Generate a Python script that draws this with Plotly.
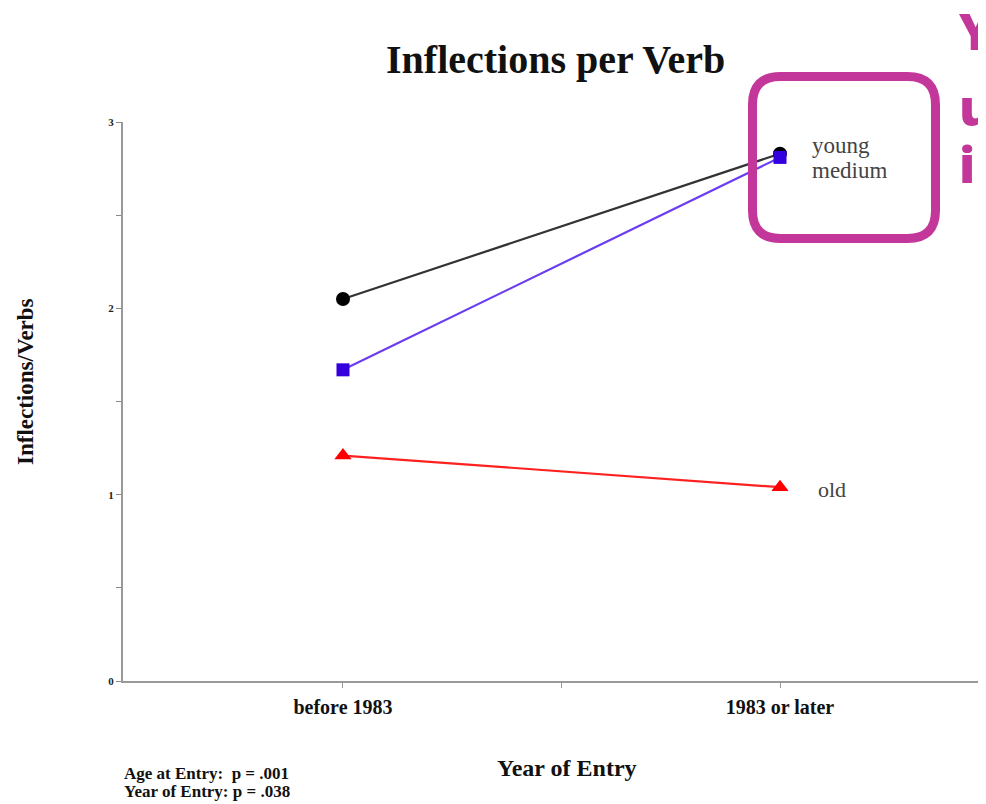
import plotly.graph_objects as go

# ---- data ----
x_positions = [1, 2]
x_tick_labels = ["before 1983", "1983 or later"]
young = [2.05, 2.83]
medium = [1.67, 2.81]
old = [1.21, 1.04]
series_names = ["young", "medium", "old"]
y_tick_values = [0, 1, 2, 3]

# page body has an 8px margin; compensate so the plot lands where the reference has it
OFF = 8
VW, VH = 986, 804
L, R, T, B = 123, 986, 122, 681   # plot area in viewport pixels
W, H = VW - OFF, VH - OFF


def px(x):
    return (x - L) / (R - L)


def py(y):
    return (B - y) / (B - T)


SERIF = "Liberation Serif, Times New Roman, serif"

fig = go.Figure()
fig.add_trace(go.Scatter(x=x_positions, y=old, mode="lines+markers", name=series_names[2],
                         line=dict(color="#ff2020", width=2.2),
                         marker=dict(symbol="triangle-up", size=15, color="#ff0000")))
fig.add_trace(go.Scatter(x=x_positions, y=young, mode="lines+markers", name=series_names[0],
                         line=dict(color="#333333", width=2.2),
                         marker=dict(symbol="circle", size=14, color="#000000")))
fig.add_trace(go.Scatter(x=x_positions, y=medium, mode="lines+markers", name=series_names[1],
                         line=dict(color="#6a3cf2", width=2.2),
                         marker=dict(symbol="square", size=13, color="#3300dd")))

xt_vals = [1, 1.5, 2]
xt_text = [x_tick_labels[0], "", x_tick_labels[1]]
yt_vals = [v / 2 for v in range(0, 7)]
yt_text = [str(int(v)) if v in y_tick_values else "" for v in yt_vals]

fig.update_layout(
    width=W, height=H,
    margin=dict(l=L - OFF, r=VW - R, t=T - OFF, b=VH - B, pad=0),
    paper_bgcolor="white", plot_bgcolor="white",
    showlegend=False,
    xaxis=dict(range=[0.4966, 2.4714], tickmode="array", tickvals=xt_vals, ticktext=xt_text,
               showgrid=False, zeroline=False, showline=True, linecolor="#999999", linewidth=2,
               ticks="outside", ticklen=5, tickcolor="#999999", tickwidth=1,
               tickfont=dict(family=SERIF, size=20, color="#111111", weight="bold"),
               ticklabelstandoff=2),
    yaxis=dict(range=[0, 3], tickmode="array", tickvals=yt_vals, ticktext=yt_text,
               showgrid=False, zeroline=False, showline=True, linecolor="#999999", linewidth=2,
               ticks="outside", ticklen=5, tickcolor="#888888", tickwidth=1,
               tickfont=dict(family=SERIF, size=11, color="#222222", weight="bold")),
)


def A(text, x, y, size, color="#111111", xanchor="center", family=SERIF, weight="normal", **kw):
    return dict(text=text, x=px(x), y=py(y), xref="paper", yref="paper", xanchor=xanchor,
                yanchor="middle", showarrow=False,
                font=dict(family=family, size=size, color=color, weight=weight), **kw)


ann = [
    A("<b>Inflections per Verb</b>", 555, 60, 40),
    A("<b>Inflections/Verbs</b>", 25, 382, 23, textangle=-90),
    A("<b>Year of Entry</b>", 567, 768, 24),
    A("<b>Age at Entry:&nbsp;&nbsp;p = .001</b>", 122, 773, 17, xanchor="left"),
    A("<b>Year of Entry: p = .038</b>", 122, 791, 17, xanchor="left"),
    A(series_names[0], 810, 146, 23, color="#444444", xanchor="left"),
    A(series_names[1], 810, 170, 23, color="#444444", xanchor="left"),
    A(series_names[2], 816, 489, 22, color="#444444", xanchor="left"),
]
MAG = "#c4379a"
for txt, yc in [("You", 31), ("use", 107), ("in", 164)]:
    ann.append(A(txt, 957, yc, 50, color=MAG, xanchor="left",
                 family="Open Sans, sans-serif", weight=800))
fig.update_layout(annotations=ann)

# rounded magenta box
x0, x1, y0, y1, r = 752.5, 935.5, 76.5, 238.5, 28


def P(x, y):
    return f"{px(x):.5f},{py(y):.5f}"


path = (f"M {P(x0 + r, y0)} L {P(x1 - r, y0)} Q {P(x1, y0)} {P(x1, y0 + r)} "
        f"L {P(x1, y1 - r)} Q {P(x1, y1)} {P(x1 - r, y1)} "
        f"L {P(x0 + r, y1)} Q {P(x0, y1)} {P(x0, y1 - r)} "
        f"L {P(x0, y0 + r)} Q {P(x0, y0)} {P(x0 + r, y0)} Z")
fig.add_shape(type="path", path=path, xref="paper", yref="paper",
              line=dict(color=MAG, width=9), layer="above")

fig.write_html("out.html")
